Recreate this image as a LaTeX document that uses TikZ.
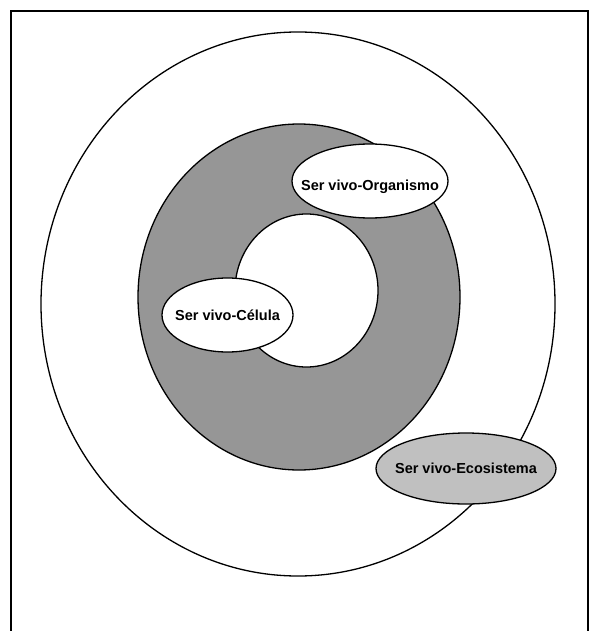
\documentclass[tikz,border=0pt]{standalone}
\usepackage{fontspec}
\setmainfont{Liberation Sans}
\usetikzlibrary{shapes.geometric}
\definecolor{ringgray}{RGB}{150,150,150}
\definecolor{ecogray}{RGB}{192,192,192}
\begin{document}
\begin{tikzpicture}[x=1pt,y=-1pt,
  oval/.style={ellipse,draw=black,line width=1.3pt,inner sep=0pt,fill=white},
  lbl/.style={font=\fontsize{14.5}{17}\selectfont\bfseries,inner sep=0pt}]
\useasboundingbox (0,0) rectangle (593,631);
\draw[line width=1.5pt] (11,632) -- (11,11) -- (588,11) -- (588,632);
\node[oval,minimum width=514pt,minimum height=544pt] (outer) at (298,304) {};
\node[oval,fill=ringgray,minimum width=322pt,minimum height=346pt] (ring) at (299,297) {};
\node[oval,minimum width=143pt,minimum height=153pt] (hole) at (306.5,290.5) {};
\node[oval,minimum width=156pt,minimum height=74pt,
  label={[lbl,yshift=-6pt]center:Ser vivo-Organismo}] (org) at (370,181) {};
\node[oval,minimum width=131pt,minimum height=74pt,
  label={[lbl]center:Ser vivo-Célula}] (cel) at (227.5,315) {};
\node[oval,fill=ecogray,minimum width=180pt,minimum height=71pt,
  label={[lbl]center:Ser vivo-Ecosistema}] (eco) at (466,468.5) {};
\end{tikzpicture}
\end{document}
